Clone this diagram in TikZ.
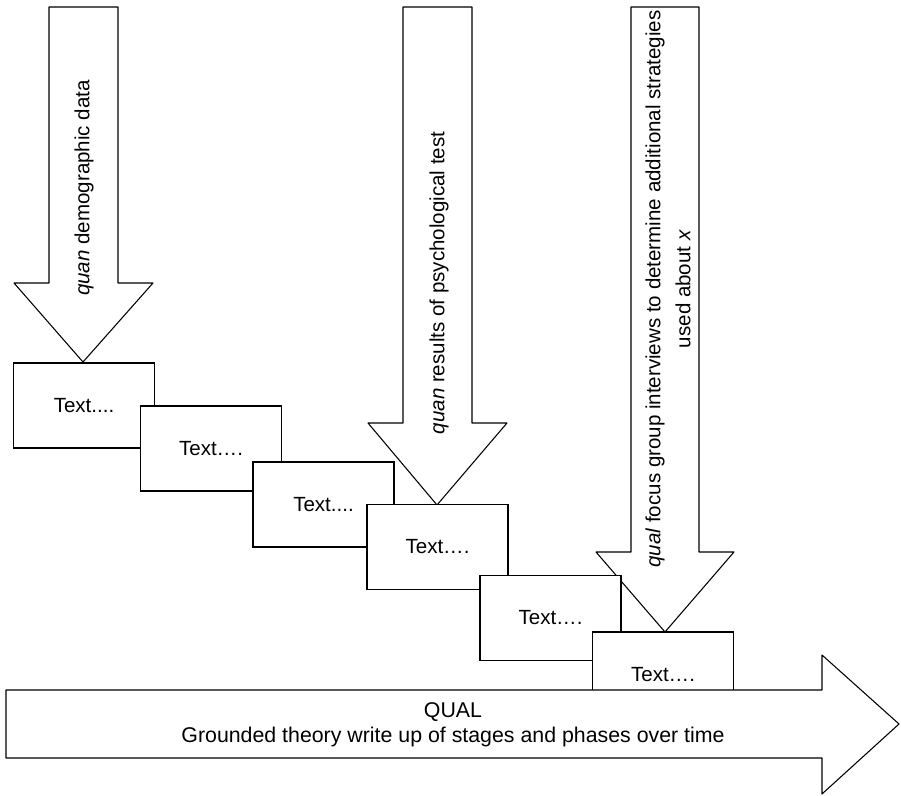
\documentclass[tikz,border=0pt]{standalone}
\usepackage{fontspec}
\setmainfont{Liberation Sans}
\usepackage{tkz-euclide}
\tikzset{stagebox/.style={draw,fill=white,line width=.8pt,minimum width=105.75pt,
    minimum height=63.75pt,inner sep=0pt},
  arrowtext/.style={rotate=90,align=center,inner sep=0pt}}

\begin{document}
\begin{tikzpicture}[x=.75pt,y=-.75pt,font=\fontsize{15.4}{22.5}\selectfont]
\tkzSetUpLine[line width=.8pt,color=black]
\useasboundingbox (0,0) rectangle (901,796);

% quan arrow 1
\tkzDefPoints{49/7/A1,118/7/A2,118/283/A3,153/283/A4,83/362/A5,14/283/A6,49/283/A7}
\tkzFillPolygon[fill=white](A1,A2,A3,A4,A5,A6,A7)
\tkzDrawPolygon(A1,A2,A3,A4,A5,A6,A7)
\node[arrowtext] (demo) at (84,188) {\textit{quan} demographic data};

% quan arrow 2
\tkzDefPoints{403/7/B1,472/7/B2,472/423/B3,507/423/B4,437/505/B5,368/423/B6,403/423/B7}
\tkzFillPolygon[fill=white](B1,B2,B3,B4,B5,B6,B7)
\tkzDrawPolygon(B1,B2,B3,B4,B5,B6,B7)
\node[arrowtext] (psych) at (439,283) {\textit{quan} results of psychological test};

% qual arrow 3
\tkzDefPoints{631/7/C1,699/7/C2,699/552/C3,734/552/C4,665/632/C5,596/552/C6,631/552/C7}
\tkzFillPolygon[fill=white](C1,C2,C3,C4,C5,C6,C7)
\tkzDrawPolygon(C1,C2,C3,C4,C5,C6,C7)
\node[arrowtext] (focus) at (668,289) {\textit{qual} focus group interviews to determine additional strategies\\used about \textit{x}};

% stages
\node[stagebox] (s1) at (84,405.5) {Text....};
\node[stagebox] (s2) at (211,448.5) {Text….};
\node[stagebox] (s3) at (323.5,504.5) {Text....};
\node[stagebox] (s4) at (437.5,547) {Text….};
\node[stagebox] (s5) at (550.5,618) {Text….};
\node[stagebox] (s6) at (663,674.5) {Text….};

% QUAL arrow
\tkzDefPoints{6/690/Q1,822/690/Q2,822/655/Q3,899/724/Q4,822/794/Q5,822/758/Q6,6/758/Q7}
\tkzFillPolygon[fill=white](Q1,Q2,Q3,Q4,Q5,Q6,Q7)
\tkzDrawPolygon(Q1,Q2,Q3,Q4,Q5,Q6,Q7)
\node[align=center,font=\fontsize{16}{18.75}\selectfont] (qual) at (453,724.5)
  {QUAL\\Grounded theory write up of stages and phases over time};

\end{tikzpicture}
\end{document}
